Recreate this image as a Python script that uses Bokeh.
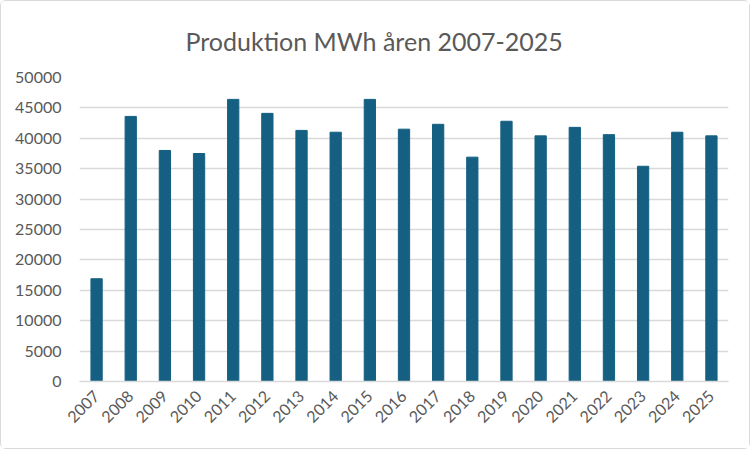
from bokeh.plotting import figure
from bokeh.models import FixedTicker, NumeralTickFormatter
from bokeh.embed import file_html
from bokeh.resources import INLINE
from math import pi

years = [str(y) for y in range(2007, 2026)]
production = [16900, 43600, 38000, 37500, 46400, 44100, 41300, 41000, 46400, 41500,
              42300, 36900, 42800, 40400, 41800, 40600, 35400, 41000, 40400]
y_ticks = list(range(0, 50001, 5000))
title_text = "Produktion MWh åren 2007-2025"

p = figure(x_range=years, y_range=(0, 50000), width=750, height=449,
           output_backend="svg", toolbar_location=None, title=title_text,
           min_border_left=78, min_border_right=23, min_border_top=76, min_border_bottom=69)
p.styles = {"border": "1px solid #d9d9d9", "border-radius": "6px"}
p.title.align = "left"
p.title.offset = 106
p.title.vertical_align = "top"
p.title.text_font = "Lato"
p.title.text_font_size = "25px"
p.title.text_font_style = "normal"
p.title.text_color = "#595959"
p.title.standoff = 40

p.vbar(x=years, top=production, width=0.33, color="#156082")

p.x_range.range_padding = 0
p.xaxis.major_label_orientation = pi / 4
p.xaxis.axis_line_color = "#d9d9d9"
p.xaxis.axis_line_width = 1.5
p.xaxis.major_tick_line_color = None
p.xaxis.minor_tick_line_color = None
p.xaxis.major_label_text_font = "Lato"
p.xaxis.major_label_text_font_size = "16px"
p.xaxis.major_label_text_color = "#595959"
p.xaxis.major_label_standoff = 6

p.yaxis.ticker = FixedTicker(ticks=y_ticks)
p.yaxis.formatter = NumeralTickFormatter(format="0")
p.yaxis.axis_line_color = None
p.yaxis.major_tick_line_color = None
p.yaxis.minor_tick_line_color = None
p.yaxis.major_label_text_font = "Lato"
p.yaxis.major_label_text_font_size = "16px"
p.yaxis.major_label_text_color = "#595959"
p.yaxis.major_label_standoff = 12

p.xgrid.grid_line_color = None
p.ygrid.grid_line_color = "#d9d9d9"
p.ygrid.grid_line_width = 1.5
p.outline_line_color = None

open("out.html", "w").write(file_html(p, INLINE))
